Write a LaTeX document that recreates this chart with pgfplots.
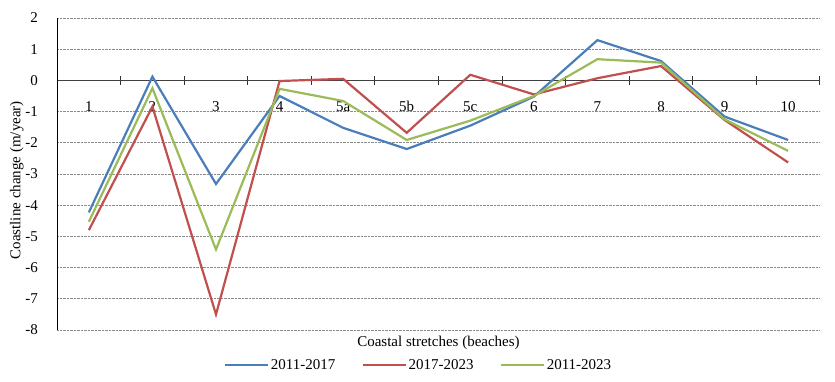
\documentclass[border=0pt]{standalone}
\usepackage{fontspec}
\setmainfont{Liberation Serif}
\usepackage{pgfplots}
\pgfplotsset{compat=1.18}
\definecolor{c1}{RGB}{74,126,187}
\definecolor{c2}{RGB}{192,80,77}
\definecolor{c3}{RGB}{155,187,89}

\pgfplotstableread{
x  a     b     c
1  -4.23 -4.80 -4.53
2   0.12 -0.84 -0.25
3  -3.32 -7.50 -5.42
4  -0.50 -0.02 -0.27
5  -1.52  0.05 -0.66
6  -2.20 -1.68 -1.91
7  -1.45  0.18 -1.29
8  -0.52 -0.45 -0.50
9   1.29  0.07  0.68
10  0.62  0.46  0.57
11 -1.16 -1.27 -1.25
12 -1.91 -2.63 -2.26
}\coast

\begin{document}
\begin{tikzpicture}
\begin{axis}[
  width=763pt, height=312pt, scale only axis,
  xmin=0.499, xmax=12.501, ymin=-8, ymax=2,
  axis x line*=middle, axis y line*=left,
  x axis line style={draw=black!75, line width=1pt, -},
  y axis line style={draw=black, line width=0.9pt, -},
  xtick={0.5,1.5,2.5,3.5,4.5,5.5,6.5,7.5,8.5,9.5,10.5,11.5,12.5},
  x tick label as interval,
  xticklabels={1,2,3,4,5a,5b,5c,6,7,8,9,10},
  major tick length=9pt,
  tick align=center,
  xtick style={draw=black!80, line width=1pt},
  xticklabel style={yshift=-13pt},
  ytick={-8,-7,...,2},
  ytick style={draw=none},
  ymajorgrids,
  grid style={densely dotted, black!45, line width=0.6pt},
  /pgf/number format/assume math mode=true,
  tick label style={font=\fontsize{15}{17}\selectfont},
  yticklabel style={xshift=-11pt},
  ylabel={Coastline change (m/year)},
  ylabel style={font=\fontsize{15}{17}\selectfont, at={(ticklabel cs:0.48)}, yshift=-5pt},
  xlabel={Coastal stretches (beaches)},
  xlabel style={font=\fontsize{15}{17}\selectfont, at={(axis description cs:0.5,0)}, anchor=north, yshift=-3pt},
  legend columns=3,
  legend style={draw=none, fill=none, at={(axis description cs:0.5,-0.112)}, anchor=center, xshift=-20pt,
    font=\fontsize{15}{17}\selectfont, /tikz/every even column/.append style={column sep=24pt}},
  legend image code/.code={\draw[#1] (0pt,0pt) -- (43pt,0pt);},
  every axis plot/.append style={line width=2.2pt, line join=miter},
  clip=false,
]
\addplot[c1] table[x=x,y=a] {\coast};
\addlegendentry{2011-2017}
\addplot[c2] table[x=x,y=b] {\coast};
\addlegendentry{2017-2023}
\addplot[c3] table[x=x,y=c] {\coast};
\addlegendentry{2011-2023}
\end{axis}
\path (-57pt,-52pt) rectangle (778pt,330pt);
\end{tikzpicture}
\end{document}
